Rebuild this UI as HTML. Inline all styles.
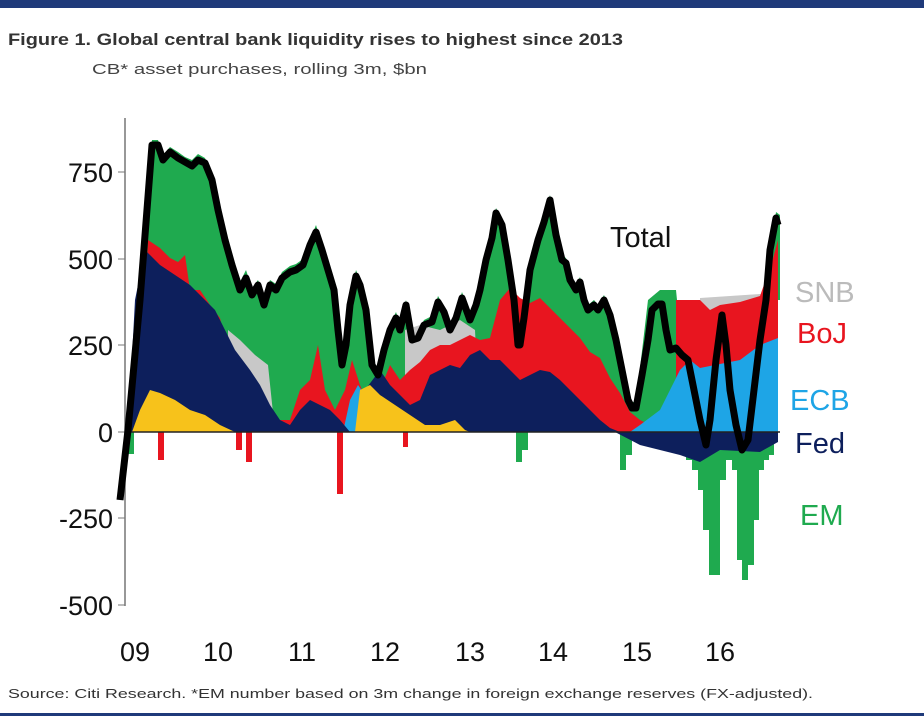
<!DOCTYPE html>
<html><head><meta charset="utf-8"><style>
body{margin:0;background:#fff;}
svg{display:block;font-family:"Liberation Sans",Arial,sans-serif;}
</style></head><body>
<svg width="924" height="728" viewBox="0 0 924 728">
<rect x="0" y="0" width="924" height="8" fill="#1f3a7a"/>
<text x="8" y="45" font-size="17" font-weight="bold" fill="#333" textLength="615" lengthAdjust="spacingAndGlyphs">Figure 1. Global central bank liquidity rises to highest since 2013</text>
<text x="92" y="74" font-size="15" fill="#444" textLength="335" lengthAdjust="spacingAndGlyphs">CB* asset purchases, rolling 3m, $bn</text>

<polygon fill="#1faa4f" points="128,432 140,300 152,140 158,140 163,155 170,147 178,152 185,157 192,160 198,154 205,158 212,175 218,205 225,235 232,260 240,282 246,270 252,288 258,280 264,298 270,280 276,284 282,272 290,266 296,264 303,259 310,240 316,225 322,245 328,265 334,285 338,325 342,358 346,340 350,300 356,270 360,280 366,305 372,360 378,370 384,345 390,325 396,312 400,324 406,300 412,334 418,332 424,320 432,316 438,296 444,306 450,324 456,312 462,292 470,314 476,300 480,285 486,255 492,232 496,208 502,220 508,255 514,295 518,340 520,340 524,312 530,265 538,235 544,217 550,195 556,230 562,255 566,258 570,275 576,285 580,277 584,295 588,305 594,300 598,305 604,295 610,310 616,335 622,365 628,395 632,402 636,402 648,300 660,290 676,290 680,330 680,432"/>
<polygon fill="#1faa4f" points="770,260 776,212 780,215 780,300 770,300"/>
<polygon fill="#c8c8c8" points="228,432 228,330 240,340 255,355 268,365 275,432"/>
<polygon fill="#c8c8c8" points="405,432 405,330 420,325 440,330 460,320 475,330 480,432"/>
<polygon fill="#c8c8c8" points="700,432 700,298 760,294 770,294 770,432"/>
<polygon fill="#e8151f" points="140,432 148,240 160,248 170,258 178,262 185,255 190,290 200,290 210,305 220,318 225,340 232,360 245,380 255,390 265,400 270,420 290,420 300,390 310,380 318,345 325,390 335,410 345,390 352,360 360,385 370,410 380,390 390,365 400,380 410,370 420,362 430,350 440,345 450,345 460,340 470,335 480,340 490,338 500,300 510,288 520,298 530,303 540,298 550,308 560,318 570,328 580,338 590,352 600,358 610,378 620,393 630,412 640,420 660,430 660,432"/>
<polygon fill="#e8151f" points="676,432 676,300 700,300 710,310 720,305 740,302 760,296 772,262 778,240 778,432"/>
<polygon fill="#1ea5e6" points="630,432 640,425 660,410 670,390 680,370 690,360 700,368 720,364 740,360 760,345 778,338 778,432"/>
<polygon fill="#1ea5e6" points="238,432 245,410 255,400 265,410 275,425 285,432"/>
<polygon fill="#1ea5e6" points="343,432 350,400 358,385 365,395 372,410 382,420 387,432"/>
<polygon fill="#0d1f5c" points="128,432 135,300 145,250 160,265 175,275 190,285 200,295 215,310 225,330 235,350 250,370 260,385 270,405 280,420 290,425 300,410 310,400 320,405 330,410 340,420 350,432"/>
<polygon fill="#0d1f5c" points="360,432 365,390 380,370 390,385 400,395 410,405 420,400 430,375 440,370 450,365 460,368 470,355 480,350 490,360 500,360 510,370 520,380 530,375 540,370 550,372 560,380 570,390 580,400 590,410 600,420 610,428 620,432"/>
<polygon fill="#f7c21b" points="132,432 140,410 150,390 160,393 175,400 190,410 205,415 220,425 235,432"/>
<polygon fill="#f7c21b" points="355,432 360,390 370,385 380,395 395,405 410,415 425,425 440,425 455,420 465,430 470,432"/>
<g fill="#e8151f">
<rect x="158" y="432" width="6" height="28"/><rect x="236" y="432" width="6" height="18"/><rect x="246" y="432" width="6" height="30"/><rect x="337" y="432" width="6" height="62"/><rect x="403" y="432" width="5" height="15"/></g>
<g fill="#1faa4f">
<rect x="128" y="432" width="6" height="22"/>
<rect x="516" y="432" width="6" height="30"/><rect x="522" y="432" width="6" height="18"/><rect x="620" y="432" width="6" height="38"/><rect x="626" y="432" width="6" height="23"/>
<rect x="680" y="440" width="6" height="12"/><rect x="686" y="440" width="6" height="20"/><rect x="692" y="440" width="6" height="30"/><rect x="698" y="440" width="6" height="50"/><rect x="703" y="440" width="6" height="90"/><rect x="709" y="440" width="6" height="135"/><rect x="714" y="440" width="6" height="135"/><rect x="720" y="440" width="6" height="40"/><rect x="726" y="440" width="6" height="20"/><rect x="732" y="440" width="6" height="30"/><rect x="737" y="440" width="6" height="120"/><rect x="742" y="440" width="6" height="140"/><rect x="748" y="440" width="6" height="125"/><rect x="753" y="440" width="6" height="80"/><rect x="758" y="440" width="6" height="30"/><rect x="763" y="440" width="6" height="20"/><rect x="768" y="438" width="6" height="17"/></g>
<polygon fill="#0d1f5c" points="615,432 640,445 680,455 700,462 720,450 760,452 778,442 778,432"/>
<line x1="125" y1="118" x2="125" y2="606" stroke="#777" stroke-width="1.5"/>
<line x1="125" y1="432" x2="780" y2="432" stroke="#222" stroke-width="1.5"/>
<g stroke="#777"><line x1="118" y1="172" x2="125" y2="172"/><line x1="118" y1="259" x2="125" y2="259"/><line x1="118" y1="345" x2="125" y2="345"/><line x1="118" y1="432" x2="125" y2="432"/><line x1="118" y1="518" x2="125" y2="518"/><line x1="118" y1="605" x2="125" y2="605"/></g>
<polyline fill="none" stroke="#000" stroke-width="7" stroke-linejoin="round" points="120,500 128,430 140,300 152,145 158,145 163,160 170,152 178,158 185,162 192,166 198,160 205,163 212,180 218,210 225,240 232,265 240,290 246,278 252,295 258,285 264,305 270,285 276,290 282,278 290,272 296,270 303,265 310,245 316,232 322,250 328,270 334,290 338,330 342,365 346,345 350,305 356,276 360,285 366,310 372,365 378,375 384,350 390,330 396,318 400,330 406,305 412,340 418,338 424,325 432,322 438,302 444,312 450,330 456,318 462,298 470,320 476,305 480,290 486,260 492,238 496,213 502,225 508,260 514,300 518,345 520,345 524,318 530,270 538,240 544,222 550,200 556,235 562,260 566,263 570,280 576,290 580,282 584,300 588,310 594,305 598,310 604,300 610,315 616,340 622,370 628,400 632,408 636,408 642,375 648,340 652,310 658,304 662,304 666,330 670,350 676,348 682,355 688,360 694,390 700,420 706,445 710,420 716,360 722,315 726,345 730,390 736,425 742,450 748,440 754,390 760,340 766,300 770,250 776,218 778,225"/>
<g font-size="27" fill="#111" text-anchor="end">
<text x="113" y="182">750</text><text x="113" y="269">500</text><text x="113" y="355">250</text><text x="113" y="442">0</text><text x="113" y="528">-250</text><text x="113" y="615">-500</text></g>
<g font-size="27" fill="#111" text-anchor="middle">
<text x="135" y="661">09</text><text x="218" y="661">10</text><text x="302" y="661">11</text><text x="385" y="661">12</text><text x="470" y="661">13</text><text x="553" y="661">14</text><text x="637" y="661">15</text><text x="720" y="661">16</text></g>
<g font-size="29">
<text x="610" y="247" fill="#111">Total</text>
<text x="795" y="302" fill="#bbb">SNB</text>
<text x="797" y="343" fill="#e8151f">BoJ</text>
<text x="790" y="410" fill="#1ea5e6">ECB</text>
<text x="795" y="453" fill="#0d1f5c">Fed</text>
<text x="800" y="525" fill="#1faa4f">EM</text></g>
<text x="8" y="698" font-size="13" fill="#333" textLength="805" lengthAdjust="spacingAndGlyphs">Source: Citi Research. *EM number based on 3m change in foreign exchange reserves (FX-adjusted).</text>
<rect x="0" y="713" width="924" height="3" fill="#1f3a7a"/>
</svg>
</body></html>
